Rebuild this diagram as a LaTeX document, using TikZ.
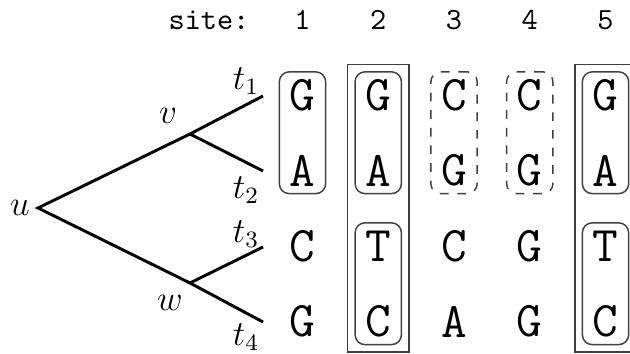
\documentclass[tikz,border=0pt]{standalone}
\usepackage{amsmath,amssymb}
\usetikzlibrary{positioning,fit,calc}
\tikzset{
  base/.style={font=\fontsize{17}{20}\selectfont\ttfamily, inner sep=0pt, minimum width=15.4pt, minimum height=15.4pt},
  head/.style={font=\fontsize{10.5}{12}\selectfont\ttfamily},
  branch/.style={line width=1pt},
  lbl/.style={font=\fontsize{12}{14}\selectfont, inner sep=0pt},
  grp/.style={draw=black!75, line width=0.5pt, rounded corners=3.4pt, inner sep=0pt},
  grpd/.style={grp, dashed},
  blk/.style={draw=black!75, line width=0.5pt, inner sep=2.56pt}
}

\begin{document}
\begin{tikzpicture}[x=0.341pt,y=-0.341pt]
\useasboundingbox (0,0) rectangle (630,354);
  \coordinate (u) at (38,208);
  \coordinate (v) at (190,134);
  \coordinate (w) at (190,283);
  \coordinate (t1) at (263,96);
  \coordinate (t2) at (263,171);
  \coordinate (t3) at (263,247);
  \coordinate (t4) at (263,322);
      \draw[branch] (v) -- (u) -- (w);
      \draw[branch] (t1) -- (v) -- (t2);
      \draw[branch] (t3) -- (w) -- (t4);
      \node[lbl] (ul) at (20,208) {$u$};
      \node[lbl] (vl) at (168,116) {$v$};
      \node[lbl] (wl) at (170,303) {$w$};
      \node[lbl] (t1l) at (246,81) {$t_1$};
      \node[lbl] (t2l) at (246,190) {$t_2$};
      \node[lbl] (t3l) at (246,234) {$t_3$};
      \node[lbl] (t4l) at (246,337) {$t_4$};
  % header
  \node[head, anchor=east, inner sep=0pt] (site) at (250,20) {site:};
  \foreach \c in {1,...,5}
    \node[head] (n\c) at ({302.5+75.75*(\c-1)},20) {\c};
  % alignment
  \foreach \c/\p/\q/\r/\s in {1/G/A/C/G, 2/G/A/T/C, 3/C/G/C/A, 4/C/G/G/G, 5/G/A/T/C} {
    \node[base] (c\c-1) at ({302.5+75.75*(\c-1)},95) {\p};
    \node[base] (c\c-2) at ({302.5+75.75*(\c-1)},170.5) {\q};
    \node[base] (c\c-3) at ({302.5+75.75*(\c-1)},246) {\r};
    \node[base] (c\c-4) at ({302.5+75.75*(\c-1)},321.5) {\s};
  }
      \node[grp, fit=(c1-1)(c1-2)] (g1) {};
      \node[grp, fit=(c2-1)(c2-2)] (g2a) {};
      \node[grp, fit=(c2-3)(c2-4)] (g2b) {};
      \node[grpd, fit=(c3-1)(c3-2)] (g3) {};
      \node[grpd, fit=(c4-1)(c4-2)] (g4) {};
      \node[grp, fit=(c5-1)(c5-2)] (g5a) {};
      \node[grp, fit=(c5-3)(c5-4)] (g5b) {};
      \node[blk, fit=(c2-1)(c2-4)] (b2) {};
      \node[blk, fit=(c5-1)(c5-4)] (b5) {};
\end{tikzpicture}
\end{document}
